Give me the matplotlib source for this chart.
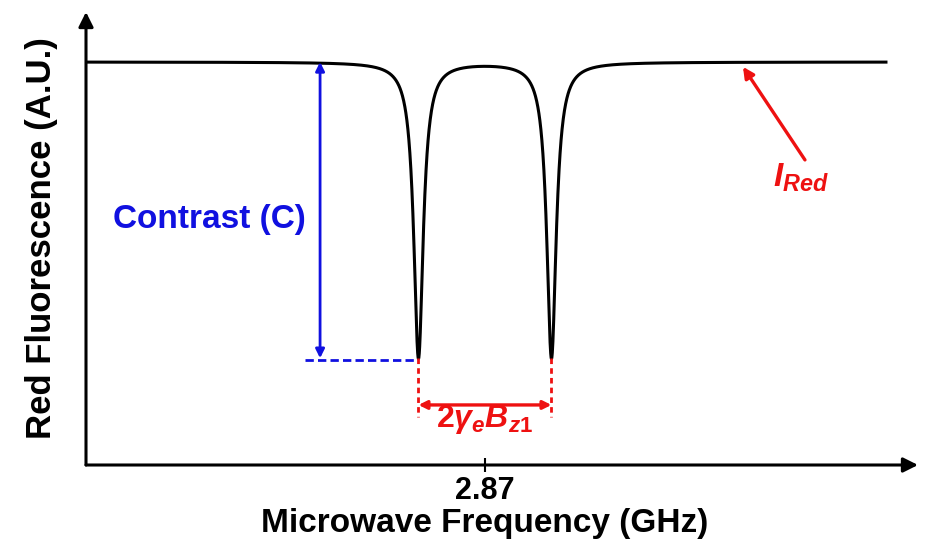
import numpy as np
import matplotlib.pyplot as plt

plt.rcParams['font.family'] = ['Liberation Sans', 'DejaVu Sans']
plt.rcParams['font.weight'] = 'bold'
plt.rcParams['mathtext.fontset'] = 'custom'
plt.rcParams['mathtext.rm'] = 'Liberation Sans:bold'
plt.rcParams['mathtext.it'] = 'Liberation Sans:italic:bold'
plt.rcParams['mathtext.bf'] = 'Liberation Sans:bold'

# ODMR spectrum parameters (GHz, arbitrary intensity)
zfs = 2.87            # zero-field splitting
splitting = 0.10      # 2*gamma_e*Bz1
hwhm = 0.0043         # Lorentzian half width
baseline = 1.0
contrast = 0.735
freq_range = [2.57, 3.1715]
x_limits = [2.57, 3.1956]
y_limits = [0.0, 1.124]
tick_pos = [2.87]
tick_labels = ['2.87']

f = np.linspace(freq_range[0], freq_range[1], 4000)
dips = [zfs - splitting / 2, zfs + splitting / 2]
signal = baseline * np.ones_like(f)
for fd in dips:
    signal -= contrast * hwhm**2 / ((f - fd)**2 + hwhm**2)
dip_level = baseline - contrast

fig = plt.figure(figsize=(9.28, 5.4), dpi=100)
ax = fig.add_axes([86 / 928, 75 / 540, 832 / 928, 453 / 540])
ax.plot(f, signal, color='black', lw=2.2)
ax.set_xlim(x_limits)
ax.set_ylim(y_limits)

for s in ax.spines.values():
    s.set_visible(False)

# axes as arrows
ax_arrow = dict(arrowstyle='-|>', color='black', lw=2.2, mutation_scale=22,
                shrinkA=0, shrinkB=0)
ax.annotate('', xy=(x_limits[1], 0), xytext=(x_limits[0], 0),
            arrowprops=ax_arrow, annotation_clip=False)
ax.annotate('', xy=(x_limits[0], y_limits[1]), xytext=(x_limits[0], 0),
            arrowprops=ax_arrow, annotation_clip=False)

ax.set_xticks(tick_pos)
ax.set_xticklabels(tick_labels, fontsize=22, fontweight='bold')
ax.tick_params(axis='x', direction='inout', length=10, width=1.5, pad=3)
ax.set_yticks([])
ax.set_xlabel('Microwave Frequency (GHz)', fontsize=24, fontweight='bold')
# keep the x label centred under the 2.87 tick, near the bottom edge
ax.xaxis.set_label_coords((2.87 - x_limits[0]) / (x_limits[1] - x_limits[0]),
                          -0.094)
ax.xaxis.label.set_va('top')
ax.set_ylabel('Red Fluorescence (A.U.)', fontsize=25, fontweight='bold',
              labelpad=20)

# contrast marker
x_c = 2.746
ax.annotate('', xy=(x_c, baseline), xytext=(x_c, dip_level),
            arrowprops=dict(arrowstyle='<|-|>', color='#1010e0', lw=2,
                            mutation_scale=13, shrinkA=0, shrinkB=0))
ax.plot([2.735, dips[0]], [dip_level - 0.005] * 2, color='#1010e0', lw=2,
        ls=(0, (3, 1.5)))
ax.text(2.590, 0.61, 'Contrast (C)', color='#1010e0', fontsize=24,
        fontweight='bold', va='center', ha='left')

# splitting marker
y_s = 0.149
for fd in dips:
    ax.plot([fd, fd], [dip_level, 0.12], color='#ee1111', lw=2,
            ls=(0, (2, 1.5)))
ax.annotate('', xy=(dips[0], y_s), xytext=(dips[1], y_s),
            arrowprops=dict(arrowstyle='<|-|>', color='#ee1111', lw=2.4,
                            mutation_scale=12, shrinkA=0, shrinkB=0))
ax.text(zfs, 0.112, r'$\mathrm{2}\mathit{\gamma_e B_{z1}}$', color='#ee1111',
        fontsize=23, ha='center', va='center')

# I_Red pointer
ax.text(3.1076, 0.712, r'$\mathit{I_{Red}}$', color='#ee1111', fontsize=24,
        ha='center', va='center')
ax.annotate('', xy=(3.064, 0.988), xytext=(3.1106, 0.757),
            arrowprops=dict(arrowstyle='-|>', color='#ee1111', lw=2.4,
                            mutation_scale=16, shrinkA=0, shrinkB=0))

fig.savefig('out.png', dpi=100)
